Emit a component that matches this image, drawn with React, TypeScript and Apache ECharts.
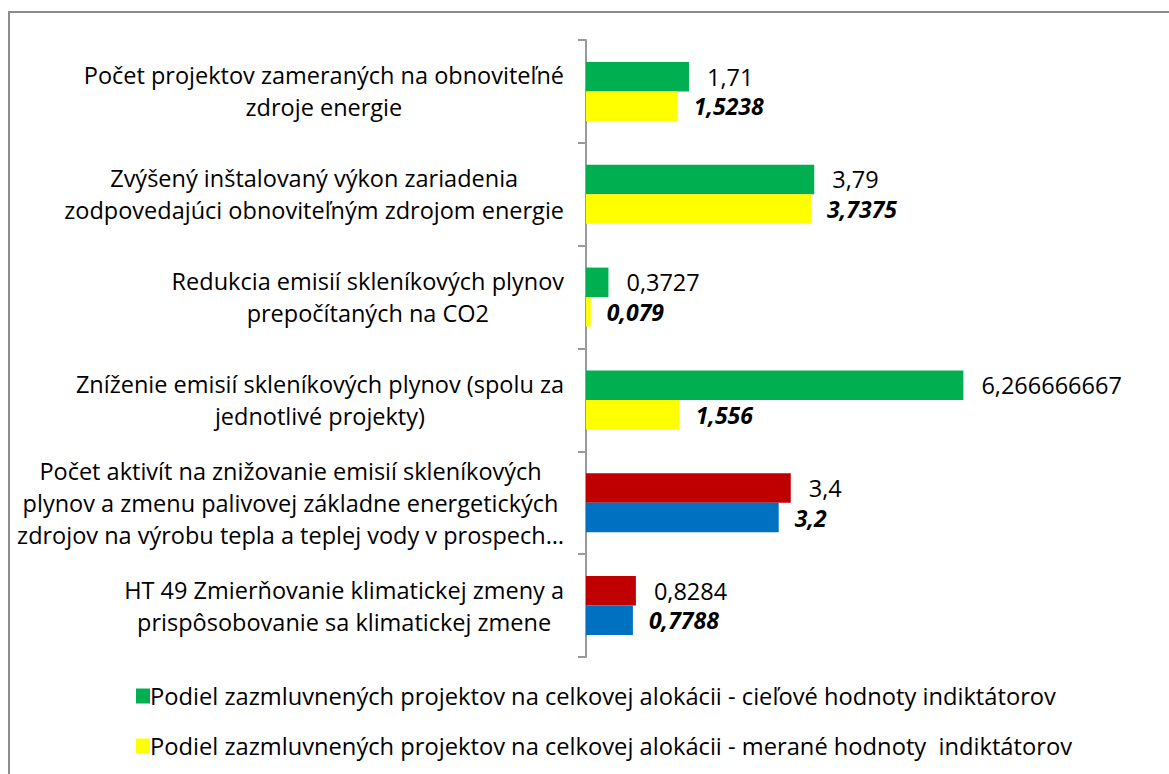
import React, { useEffect, useRef } from "react";
import * as echarts from "echarts";

const categories = [
  "Počet projektov zameraných na obnoviteľné\nzdroje energie",
  "Zvýšený inštalovaný výkon zariadenia\nzodpovedajúci obnoviteľným zdrojom energie",
  "Redukcia emisií skleníkových plynov\nprepočítaných na CO2",
  "Zníženie emisií skleníkových plynov (spolu za\njednotlivé projekty)",
  "Počet aktivít na znižovanie emisií skleníkových\nplynov a zmenu palivovej základne energetických\nzdrojov na výrobu tepla a teplej vody v prospech…",
  "HT 49 Zmierňovanie klimatickej zmeny a\nprispôsobovanie sa klimatickej zmene",
];
const targetValues = [1.71, 3.79, 0.3727, 6.266666667, 3.4, 0.8284];
const measuredValues = [1.5238, 3.7375, 0.079, 1.556, 3.2, 0.7788];
const targetColors = ["#00B050", "#00B050", "#00B050", "#00B050", "#C00000", "#C00000"];
const measuredColors = ["#FFFF00", "#FFFF00", "#FFFF00", "#FFFF00", "#0070C0", "#0070C0"];
const seriesNames = [
  "Podiel zazmluvnených projektov na celkovej alokácii - cieľové hodnoty indiktátorov",
  "Podiel zazmluvnených projektov na celkovej alokácii - merané hodnoty  indiktátorov",
];

const FONT = "'Open Sans', sans-serif";
const fmt = (v: number) => String(v).replace(".", ",");

export default function App() {
  const ref = useRef<HTMLDivElement>(null);
  useEffect(() => {
    if (!ref.current) return;
    const chart = echarts.init(ref.current, null, { renderer: "svg" });
    chart.setOption({
      animation: false,
      backgroundColor: "#ffffff",
      graphic: [
        {
          type: "rect",
          shape: { x: 9, y: 12, width: 1200, height: 800 },
          style: { fill: "none", stroke: "#8c8c8c", lineWidth: 2 },
          silent: true,
        },
      ],
      grid: { left: 586, right: 41, top: 40, bottom: 117, containLabel: false },
      legend: {
        orient: "vertical",
        left: 131,
        top: 679,
        itemGap: 26,
        itemWidth: 14,
        itemHeight: 15,
        icon: "rect",
        textStyle: { fontFamily: FONT, fontSize: 23.7, color: "#000", padding: [0, 0, 0, -5] },
        data: seriesNames,
      },
      xAxis: {
        type: "value",
        min: 0,
        max: 9,
        show: false,
      },
      yAxis: {
        type: "category",
        inverse: true,
        data: categories,
        axisLine: { show: true, lineStyle: { color: "#9a9a9a", width: 2 } },
        axisTick: { show: true, length: 8, lineStyle: { color: "#9a9a9a", width: 2 } },
        axisLabel: {
          margin: 22,
          align: "right",
          formatter: (v: string) =>
            v
              .split("\n")
              .map((l) => "{c|" + l + "}")
              .join("\n"),
          rich: {
            c: {
              align: "center",
              fontFamily: FONT,
              fontSize: 23.5,
              lineHeight: 32,
              color: "#000",
            },
          },
        },
      },
      series: [
        {
          name: seriesNames[0],
          type: "bar",
          barGap: "0%",
          barCategoryGap: "42.6%",
          itemStyle: { color: targetColors[0] },
          data: targetValues.map((v, i) => ({ value: v, itemStyle: { color: targetColors[i] } })),
          label: {
            show: true,
            position: "right",
            distance: 18,
            fontFamily: FONT,
            fontSize: 23.5,
            color: "#000",
            formatter: (p: any) => fmt(p.value),
          },
        },
        {
          name: seriesNames[1],
          type: "bar",
          barGap: "0%",
          barCategoryGap: "42.6%",
          itemStyle: { color: measuredColors[0] },
          data: measuredValues.map((v, i) => ({ value: v, itemStyle: { color: measuredColors[i] } })),
          label: {
            show: true,
            position: "right",
            distance: 16,
            fontFamily: FONT,
            fontSize: 23,
            fontWeight: "bold",
            fontStyle: "italic",
            color: "#000",
            formatter: (p: any) => fmt(p.value),
          },
        },
      ],
    });
    return () => chart.dispose();
  }, []);
  return (
    <div
      ref={ref}
      style={{ position: "fixed", left: 0, top: 0, width: 1169, height: 774 }}
    />
  );
}
